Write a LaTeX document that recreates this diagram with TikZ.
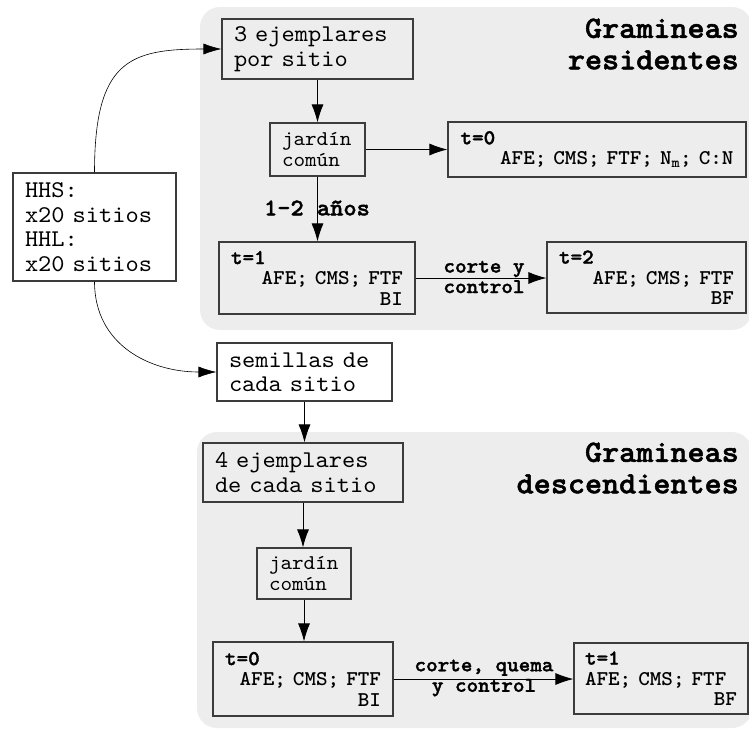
\documentclass[tikz,border=0pt]{standalone}
\usepackage{fontspec}
\newfontfamily\monofam[Extension=.otf, UprightFont=lmmono10-regular, BoldFont=lmmonolt10-bold, BoldFeatures={FakeBold=1.6}, FakeStretch=1.05]{lmmono10-regular}
\newfontfamily\midfam[Extension=.otf, UprightFont=lmmonolt10-bold, FakeStretch=1.05]{lmmonolt10-bold}
\usetikzlibrary{arrows.meta}
\definecolor{panel}{HTML}{EDEDED}
\definecolor{edge}{HTML}{3C3C3C}
\newcommand\bigtxt{\monofam\fontsize{24}{24.5}\selectfont}
\newcommand\smalltxt{\monofam\fontsize{21}{20.5}\selectfont}
\newcommand\titletxt{\monofam\bfseries\fontsize{31}{31.5}\selectfont}
\newcommand\md[1]{{\midfam #1}}
\begin{document}
\begin{tikzpicture}[x=1pt,y=-1pt,
 box/.style={draw=edge, line width=1.1pt, inner ysep=0pt, inner xsep=12pt, align=left, anchor=center},
 big/.style={font=\bigtxt},
 small/.style={font=\smalltxt},
 arr/.style={-{Latex[length=18pt,width=12pt]}, line width=0.9pt},
 curve/.style={-{Latex[length=18pt,width=11pt]}, line width=0.6pt},
 panelbox/.style={fill=panel, rounded corners=20pt},
 lab/.style={font=\smalltxt\bfseries, align=center, inner sep=0pt}]
\useasboundingbox (0,0) rectangle (749,729);
\fill[panelbox] (200,7) rectangle (752,330);
\fill[panelbox] (197,432) rectangle (752,728);

\node[box,big,text width=167pt,minimum height=60pt] (ej3) at (317.5,49) {3 ejemplares\\por sitio};
\node[box,small,text width=71pt,minimum height=53pt] (jar1) at (317.5,149.5) {jardín\\común};
\node[box,small,text width=273pt,minimum height=55pt,inner xsep=12.5pt] (t0a) at (597,149.5) {\textbf{t=0}\\\hspace*{\fill}\md{AFE; CMS; FTF; N\textsubscript{m}; C:N}};
\node[box,small,text width=172pt,minimum height=72pt] (t1a) at (317,278) {\textbf{t=1}\\\hspace*{\fill}\md{AFE; CMS; FTF}\\\hspace*{\fill}\md{BI}};
\node[box,small,text width=175pt,minimum height=71pt] (t2a) at (646.5,277.5) {\textbf{t=2}\\\hspace*{\fill}\md{AFE; CMS; FTF}\\\hspace*{\fill}\md{BF}};
\node[box,big,text width=139pt,minimum height=108pt,fill=white] (hh) at (94.5,227) {HHS:\\x20 sitios\\HHL:\\x20 sitios};
\node[box,big,text width=151pt,minimum height=58pt,fill=white] (sem) at (304.5,372) {semillas de\\cada sitio};
\node[box,big,text width=176pt,minimum height=59pt] (ej4) at (303,472.5) {4 ejemplares\\de cada sitio};
\node[box,small,text width=70pt,minimum height=51pt] (jar2) at (304,573.5) {jardín\\común};
\node[box,small,text width=156pt,minimum height=74pt] (t0b) at (303,679) {\textbf{t=0}\\\hspace*{\fill}\md{AFE; CMS; FTF}\\\hspace*{\fill}\md{BI}};
\node[box,small,text width=152pt,minimum height=71pt,inner xsep=11pt] (t1b) at (661,678.5) {\textbf{t=1}\\\md{AFE; CMS; FTF}\\\hspace*{\fill}\md{BF}};

\node[font=\titletxt, align=right, anchor=east, inner sep=0pt] (tit1) at (739,44) {Gramineas\\residentes};
\node[font=\titletxt, align=right, anchor=east, inner sep=0pt] (tit2) at (739,468) {Gramineas\\descendientes};

\node[font=\bigtxt\bfseries, inner sep=0pt] (l12) at (317,208) {1-2 años};
\node[lab] (lcy) at (484,277) {corte y\\control};
\node[lab] (lcq) at (484,678) {corte, quema\\y control};

\draw[arr] (ej3) -- (jar1);
\draw[arr] (jar1.south) -- (jar1.south |- t1a.north);
\draw[arr] (jar1) -- (t0a);
\draw[arr] (t1a.east) -- (t1a.east -| t2a.west);
\draw[arr] (sem.south) -- (sem.south |- ej4.north);
\draw[arr] (ej4.south) -- (ej4.south |- jar2.north);
\draw[arr] (jar2.south) -- (jar2.south |- t0b.north);
\draw[arr] (t0b.east) -- (t0b.east -| t1b.west);
\draw[curve] (hh.north) .. controls (94.5,60) and (130,49) .. (ej3.west);
\draw[curve] (hh.south) .. controls (94.5,345) and (150,372) .. (sem.west);
\end{tikzpicture}
\end{document}
